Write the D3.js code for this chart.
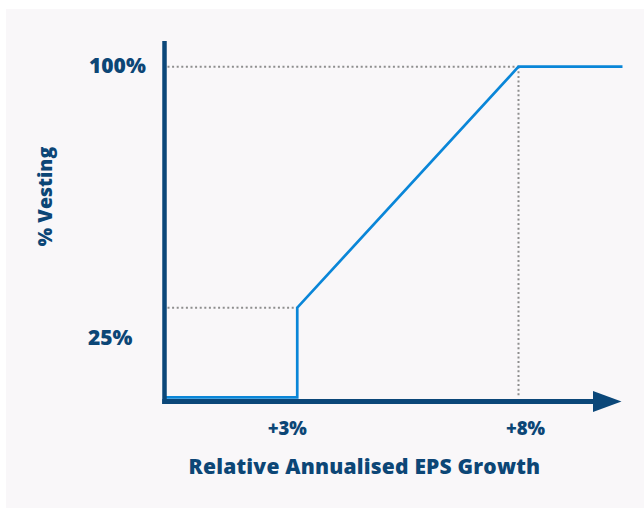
<!DOCTYPE html>
<html>
<head>
<meta charset="utf-8">
<script src="https://cdn.jsdelivr.net/npm/d3@7"></script>
<style>
  body { margin: 0; background: #fff; }
  text { font-family: "Open Sans", Inter, sans-serif; font-weight: 800; fill: #0c4676; }
</style>
</head>
<body>
<div class="chart"></div>
<script>
// vesting schedule: relative EPS growth (%) vs % vesting
const growth = [0, 3, 3, 8, 10.35]
const vesting = [0, 0, 25, 100, 100]

// reference levels drawn with dotted guides
const guideX = [3, 8]
const guideY = [25, 100]
const xTickLabels = ["+3%", "+8%"]
const yTickLabels = ["25%", "100%"]

const width = 644
const height = 508

const svg = d3.select(".chart").append("svg")
  .attr("width", width)
  .attr("height", height)

// panel background
svg.append("rect")
  .attr("x", 6).attr("y", 9)
  .attr("width", width - 6).attr("height", height - 9)
  .attr("fill", "#f9f7f9")

const x = d3.scaleLinear()
  .domain([0, 8])
  .range([164.5, 518.5])

// schematic axis: zero sits on the baseline, 25% and 100% at their guides
const y = d3.scaleLinear()
  .domain([0, 25, 100])
  .range([397.3, 307.7, 66.7])

const axisColor = "#0b4779"
const lineColor = "#0a86d8"

// dotted guides
const dots = svg.append("g")
  .attr("stroke", "#8e8e8e")
  .attr("stroke-width", 2)
  .attr("stroke-dasharray", "2,2.6")
  .attr("fill", "none")

guideY.forEach((v, i) => {
  dots.append("line")
    .attr("x1", x(0) + 3).attr("x2", x(guideX[i]))
    .attr("y1", y(v)).attr("y2", y(v))
})
dots.append("line")
  .attr("x1", x(guideX[1])).attr("x2", x(guideX[1]))
  .attr("y1", y(guideY[1])).attr("y2", 398)

// vesting line
const line = d3.line()
  .x((d, i) => x(growth[i]))
  .y(d => y(d))

svg.append("path")
  .datum(vesting)
  .attr("fill", "none")
  .attr("stroke", lineColor)
  .attr("stroke-width", 2.7)
  .attr("d", line)

// axes
const baseY = 401.5
svg.append("line")
  .attr("x1", x(0)).attr("x2", x(0))
  .attr("y1", 41).attr("y2", baseY + 2.5)
  .attr("stroke", axisColor)
  .attr("stroke-width", 4.5)

svg.append("line")
  .attr("x1", x(0) - 2.25).attr("x2", 596)
  .attr("y1", baseY).attr("y2", baseY)
  .attr("stroke", axisColor)
  .attr("stroke-width", 5)

svg.append("path")
  .attr("d", `M593,${baseY - 10.5}L621.5,${baseY}L593,${baseY + 10.5}Z`)
  .attr("fill", axisColor)

// tick labels
const xLabelOffset = [-10, 7]
svg.selectAll(".x-label")
  .data(guideX)
  .enter().append("text")
  .attr("class", "x-label")
  .attr("x", (d, i) => x(d) + xLabelOffset[i])
  .attr("y", 435)
  .attr("text-anchor", "middle")
  .attr("font-size", 18.5)
  .text((d, i) => xTickLabels[i])

const yLabelY = [345, 73]
svg.selectAll(".y-label")
  .data(guideY)
  .enter().append("text")
  .attr("class", "y-label")
  .attr("x", (d, i) => i === 0 ? 88 : 89)
  .attr("y", (d, i) => yLabelY[i])
  .attr("font-size", 21)
  .text((d, i) => yTickLabels[i])

// axis titles
svg.append("text")
  .attr("x", 364.5)
  .attr("y", 474)
  .attr("text-anchor", "middle")
  .attr("font-size", 21)
  .attr("letter-spacing", 0.2)
  .text("Relative Annualised EPS Growth")

svg.append("text")
  .attr("transform", "translate(52,196.5) rotate(-90)")
  .attr("text-anchor", "middle")
  .attr("font-size", 19.5)
  .text("% Vesting")
</script>
</body>
</html>
